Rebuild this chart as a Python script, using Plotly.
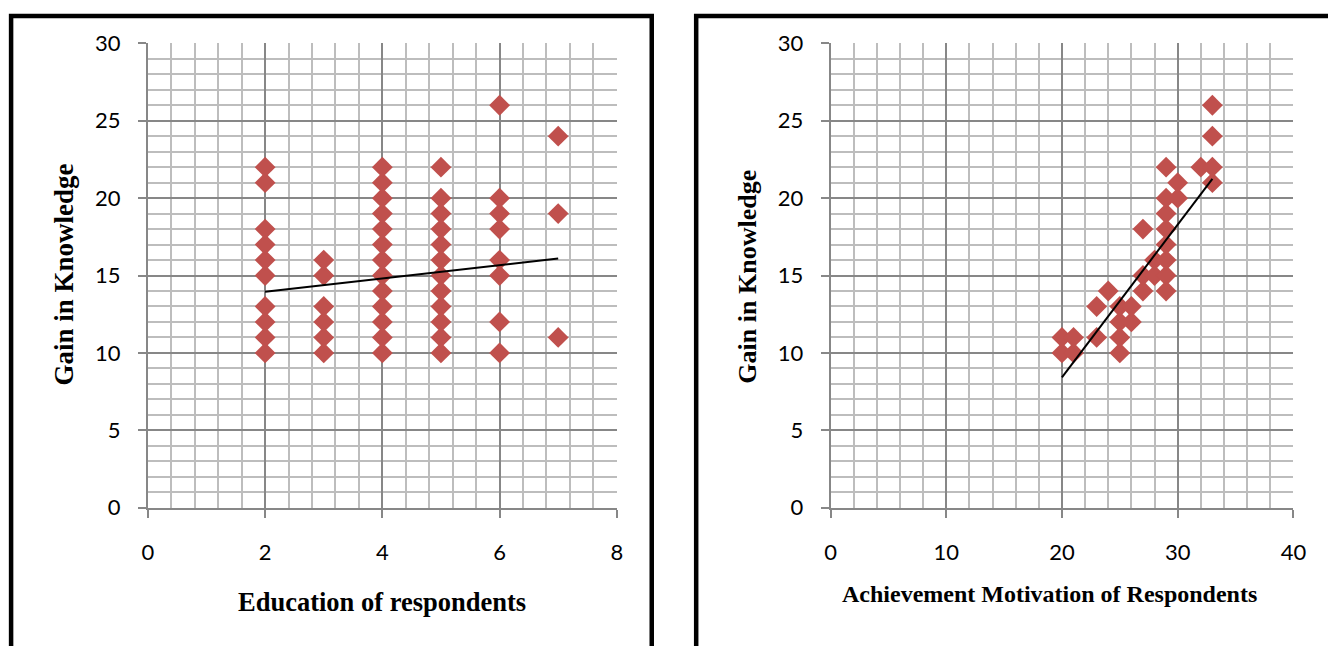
import plotly.graph_objects as go

# ---- Data: left chart (Education vs Gain in Knowledge) ----
edu_x = [2]*10 + [3]*6 + [4]*13 + [5]*12 + [6]*8 + [7]*3
edu_y = [10, 11, 12, 13, 15, 16, 17, 18, 21, 22,
         10, 11, 12, 13, 15, 16,
         10, 11, 12, 13, 14, 15, 16, 17, 18, 19, 20, 21, 22,
         10, 11, 12, 13, 14, 15, 16, 17, 18, 19, 20, 22,
         10, 12, 15, 16, 18, 19, 20, 26,
         11, 19, 24]
edu_trend_x = [2, 7]
edu_trend_y = [13.95, 16.1]

# ---- Data: right chart (Achievement Motivation vs Gain in Knowledge) ----
ach_x = [20, 20, 21, 21, 23, 23, 24, 25, 25, 25, 25, 26, 26, 27, 27, 27, 28,
         28, 29, 29, 29, 29, 29, 29, 29, 29, 30, 30, 32, 33, 33, 33, 33]
ach_y = [10, 11, 10, 11, 11, 13, 14, 10, 11, 12, 13, 12, 13, 14, 15, 18, 15,
         16, 14, 15, 16, 17, 18, 19, 20, 22, 20, 21, 22, 21, 22, 24, 26]
ach_trend_x = [20, 33]
ach_trend_y = [8.42, 21.25]

W, H = 1328, 646
RED = "#C0504D"
MINOR = "#BDBDBD"
MAJOR = "#878787"
TICKFONT = dict(family="Lato, Open Sans, sans-serif", size=22, color="black")
TITLEFONT = "Liberation Serif, Times New Roman, serif"

# empirical correction between requested pixel position and photographed position
AX, BX = 0.987, 4.4
AY, BY = 0.9636, 12.5


def px(x):
    return ((x - BX) / AX) / W


def py(y):
    return 1 - ((y - BY) / AY) / H


fig = go.Figure()
fig.add_trace(go.Scatter(x=edu_x, y=edu_y, mode="markers", xaxis="x", yaxis="y",
                         marker=dict(symbol="diamond", size=16, color=RED, line=dict(width=0)),
                         showlegend=False))
fig.add_trace(go.Scatter(x=edu_trend_x, y=edu_trend_y, mode="lines", xaxis="x", yaxis="y",
                         line=dict(color="black", width=2), showlegend=False))
fig.add_trace(go.Scatter(x=ach_x, y=ach_y, mode="markers", xaxis="x2", yaxis="y2",
                         marker=dict(symbol="diamond", size=16, color=RED, line=dict(width=0)),
                         showlegend=False))
fig.add_trace(go.Scatter(x=ach_trend_x, y=ach_trend_y, mode="lines", xaxis="x2", yaxis="y2",
                         line=dict(color="black", width=2), showlegend=False))


def xax(domain, rng, dtick, minor, anchor):
    return dict(domain=domain, range=rng, dtick=dtick, tick0=0, anchor=anchor,
                showgrid=True, gridcolor=MAJOR, gridwidth=1.8,
                minor=dict(dtick=minor, tick0=0, showgrid=True, gridcolor=MINOR, gridwidth=1.8),
                showline=True, linecolor=MAJOR, linewidth=1.8,
                ticks="outside", ticklen=8, tickcolor=MAJOR, tickwidth=1.8,
                zeroline=False, tickfont=TICKFONT, ticklabelstandoff=16, fixedrange=True)


def yax(domain, anchor):
    return dict(domain=domain, range=[0, 30], dtick=5, tick0=0, anchor=anchor,
                showgrid=True, gridcolor=MAJOR, gridwidth=1.8,
                minor=dict(dtick=1, tick0=0, showgrid=True, gridcolor=MINOR, gridwidth=1.8),
                showline=True, linecolor=MAJOR, linewidth=1.8,
                ticks="outside", ticklen=8, tickcolor=MAJOR, tickwidth=1.8,
                zeroline=False, tickfont=TICKFONT, ticklabelstandoff=13, fixedrange=True)


ydom = [py(509), py(42)]
fig.update_layout(
    width=W, height=H, autosize=False,
    margin=dict(l=0, r=0, t=0, b=0),
    paper_bgcolor="white", plot_bgcolor="white",
    xaxis=xax([px(146.5), px(616)], [0, 8], 2, 0.4, "y"),
    yaxis=yax(ydom, "x"),
    xaxis2=xax([px(830), px(1293.5)], [0, 40], 10, 2, "y2"),
    yaxis2=yax(ydom, "x2"),
    shapes=[
        dict(type="path", xref="paper", yref="paper",
             path=f"M {px(9.5)} {py(720)} L {px(9.5)} {py(14.5)} L {px(651)} {py(14.5)} L {px(651)} {py(720)}",
             line=dict(color="black", width=4.5)),
        dict(type="path", xref="paper", yref="paper",
             path=f"M {px(695.5)} {py(720)} L {px(695.5)} {py(14.5)} L {px(1360)} {py(14.5)}",
             line=dict(color="black", width=4.5)),
    ],
    annotations=[
        dict(text="<b>Education of respondents</b>", xref="paper", yref="paper",
             x=px(381), y=py(604), showarrow=False, xanchor="center", yanchor="middle",
             font=dict(family=TITLEFONT, size=26.5, color="black")),
        dict(text="<b>Gain in Knowledge</b>", xref="paper", yref="paper",
             x=px(63), y=py(275), showarrow=False, xanchor="center", yanchor="middle", textangle=-90,
             font=dict(family=TITLEFONT, size=27, color="black")),
        dict(text="<b>Achievement Motivation of Respondents</b>", xref="paper", yref="paper",
             x=px(1049), y=py(596), showarrow=False, xanchor="center", yanchor="middle",
             font=dict(family=TITLEFONT, size=24, color="black")),
        dict(text="<b>Gain in Knowledge</b>", xref="paper", yref="paper",
             x=px(746), y=py(277), showarrow=False, xanchor="center", yanchor="middle", textangle=-90,
             font=dict(family=TITLEFONT, size=26, color="black")),
    ],
)

fig.write_html("out.html", config={"displayModeBar": False},
               post_script="document.body.style.margin='0';document.body.style.padding='0';"
                           "document.body.style.overflow='hidden';"
                           "document.documentElement.style.overflow='hidden';")
